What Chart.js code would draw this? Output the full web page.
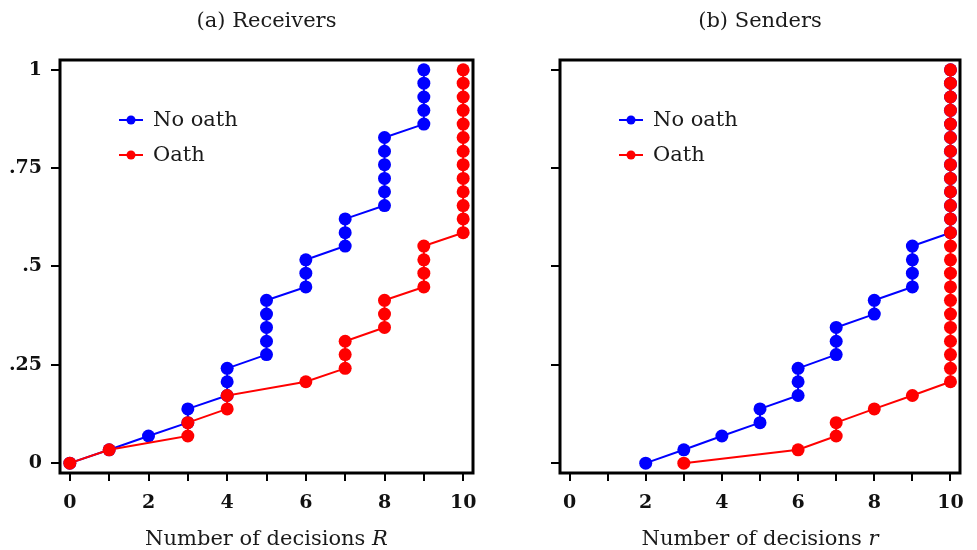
<!DOCTYPE html>
<html>
<head>
<meta charset="utf-8">
<script src="https://cdn.jsdelivr.net/npm/chart.js@4.4.1/dist/chart.umd.min.js"></script>
<style>
  body { margin: 0; background: #fff; }
  #wrap { position: relative; width: 977px; height: 550px; overflow: hidden; }
  #receiversCanvas { position: absolute; left: 0; top: 0; }
  #sendersCanvas { position: absolute; left: 490px; top: 0; }
</style>
</head>
<body>
<div id="wrap">
  <canvas id="receiversCanvas" width="490" height="550"></canvas>
  <canvas id="sendersCanvas" width="487" height="550"></canvas>
</div>
<script>
// cumulative share of subjects (rank of each observation, 30 subjects)
const cumShare = [0, .034, .069, .103, .138, .172, .207, .241, .276, .310,
                  .345, .379, .414, .448, .483, .517, .552, .586, .621, .655,
                  .690, .724, .759, .793, .828, .862, .897, .931, .966, 1];

// number of decisions for each observation, sorted
const receiversNoOath = [0, 1, 2, 3, 3, 4, 4, 4, 5, 5, 5, 5, 5, 6, 6, 6, 7, 7, 7, 8, 8, 8, 8, 8, 8, 9, 9, 9, 9, 9];
const receiversOath   = [0, 1, 3, 3, 4, 4, 6, 7, 7, 7, 8, 8, 8, 9, 9, 9, 9, 10, 10, 10, 10, 10, 10, 10, 10, 10, 10, 10, 10, 10];
const sendersNoOath   = [2, 3, 4, 5, 5, 6, 6, 6, 7, 7, 7, 8, 8, 9, 9, 9, 9, 10, 10, 10, 10, 10, 10, 10, 10, 10, 10, 10, 10, 10];
const sendersOath     = [3, 6, 7, 7, 8, 9, 10, 10, 10, 10, 10, 10, 10, 10, 10, 10, 10, 10, 10, 10, 10, 10, 10, 10, 10, 10, 10, 10, 10, 10];

const seriesNames = ["No oath", "Oath"];
const xTicks = [0, 1, 2, 3, 4, 5, 6, 7, 8, 9, 10];
const yTicks = [0, 0.25, 0.5, 0.75, 1];
const yTickLabels = ["0", ".25", ".5", ".75", "1"];

Chart.defaults.font.family = "'DejaVu Serif', serif";
Chart.defaults.color = "#111";

function toPoints(xs) {
    return xs.map((x, i) => ({x: x, y: cumShare[i]}));
}

const framePlugin = {
    id: "frame",
    afterDatasetsDraw(chart) {
        const {ctx, chartArea: a} = chart;
        ctx.save();
        ctx.lineWidth = 3;
        ctx.strokeStyle = "#000";
        ctx.strokeRect(a.left, a.top, a.right - a.left, a.bottom - a.top);
        ctx.restore();
    }
};

const panelTextPlugin = {
    id: "panelText",
    afterDraw(chart, args, opts) {
        const {ctx, chartArea: a} = chart;
        const cx = (a.left + a.right) / 2;
        const plainFont = "21px 'DejaVu Serif'";
        const italicFont = "italic 21px 'DejaVu Serif'";
        ctx.save();
        ctx.fillStyle = "#1a1a1a";
        ctx.textBaseline = "alphabetic";

        // panel title
        ctx.font = plainFont;
        ctx.textAlign = "center";
        ctx.fillText(opts.title, cx, 27);

        // x axis title, variable letter in italics
        const plain = opts.axisText + " ";
        ctx.font = plainFont;
        const w1 = ctx.measureText(plain).width;
        ctx.font = italicFont;
        const w2 = ctx.measureText(opts.axisVar).width;
        const x = cx - (w1 + w2) / 2;
        ctx.textAlign = "left";
        ctx.font = plainFont;
        ctx.fillText(plain, x, 545);
        ctx.font = italicFont;
        ctx.fillText(opts.axisVar, x + w1, 545);

        // legend inside the plot
        chart.data.datasets.forEach((ds, i) => {
            const y = a.top + 60 + i * 35;
            const x0 = a.left + 59;
            ctx.strokeStyle = ds.borderColor;
            ctx.lineWidth = 2;
            ctx.beginPath();
            ctx.moveTo(x0, y);
            ctx.lineTo(x0 + 24, y);
            ctx.stroke();
            ctx.fillStyle = ds.borderColor;
            ctx.beginPath();
            ctx.arc(x0 + 12, y, 4.5, 0, Math.PI * 2);
            ctx.fill();
            ctx.fillStyle = "#1a1a1a";
            ctx.font = "21px 'DejaVu Serif'";
            ctx.textBaseline = "middle";
            ctx.fillText(ds.label, a.left + 93, y + 1);
            ctx.textBaseline = "alphabetic";
        });
        ctx.restore();
    }
};

function makeDataset(label, xs, color, order) {
    return {
        label: label,
        data: toPoints(xs),
        borderColor: color,
        backgroundColor: color,
        borderWidth: 2,
        pointRadius: 6.5,
        pointHoverRadius: 6.5,
        pointBorderWidth: 0,
        pointBackgroundColor: color,
        tension: 0,
        order: order,
        clip: 8
    };
}

function draw_panel(canvasId, noOath, oath, title, axisVar, yWidth, showYLabels) {
    const ctx = document.getElementById(canvasId).getContext("2d");
    return new Chart(ctx, {
        type: "line",
        data: {
            datasets: [
                makeDataset(seriesNames[0], noOath, "#0000ff", 1),
                makeDataset(seriesNames[1], oath, "#ff0000", 0)
            ]
        },
        options: {
            responsive: false,
            animation: false,
            events: [],
            layout: { padding: { top: 60, left: 0, right: 490 - 473, bottom: 0 } },
            scales: {
                x: {
                    type: "linear",
                    min: -0.25,
                    max: 10.25,
                    afterBuildTicks: (s) => { s.ticks = xTicks.map(v => ({value: v})); },
                    afterFit: (s) => { s.height = 77; s.paddingLeft = 0; s.paddingRight = 0; },
                    ticks: {
                        autoSkip: false,
                        maxRotation: 0,
                        padding: 11,
                        color: "#111",
                        font: { size: 19, weight: "bold" },
                        callback: (v) => (v % 2 === 0 ? String(v) : "")
                    },
                    grid: { drawOnChartArea: false, drawTicks: true, tickLength: 8, color: "#000", lineWidth: 2 },
                    border: { display: false }
                },
                y: {
                    type: "linear",
                    min: -0.025,
                    max: 1.025,
                    afterBuildTicks: (s) => { s.ticks = yTicks.map(v => ({value: v})); },
                    afterFit: (s) => { s.width = yWidth; s.paddingTop = 0; s.paddingBottom = 0; },
                    ticks: {
                        autoSkip: false,
                        padding: 9,
                        color: "#111",
                        font: { size: 19, weight: "bold" },
                        callback: (v) => {
                            if (!showYLabels) return "";
                            const k = yTicks.indexOf(v);
                            return k >= 0 ? yTickLabels[k] : "";
                        }
                    },
                    grid: { drawOnChartArea: false, drawTicks: true, tickLength: 9, color: "#000", lineWidth: 2 },
                    border: { display: false }
                }
            },
            plugins: {
                legend: { display: false },
                tooltip: { enabled: false },
                panelText: { title: title, axisText: "Number of decisions", axisVar: axisVar }
            }
        },
        plugins: [framePlugin, panelTextPlugin]
    });
}

draw_panel("receiversCanvas", receiversNoOath, receiversOath, "(a) Receivers", "R", 60, true);
draw_panel("sendersCanvas", sendersNoOath, sendersOath, "(b) Senders", "r", 70, false);
</script>
</body>
</html>
